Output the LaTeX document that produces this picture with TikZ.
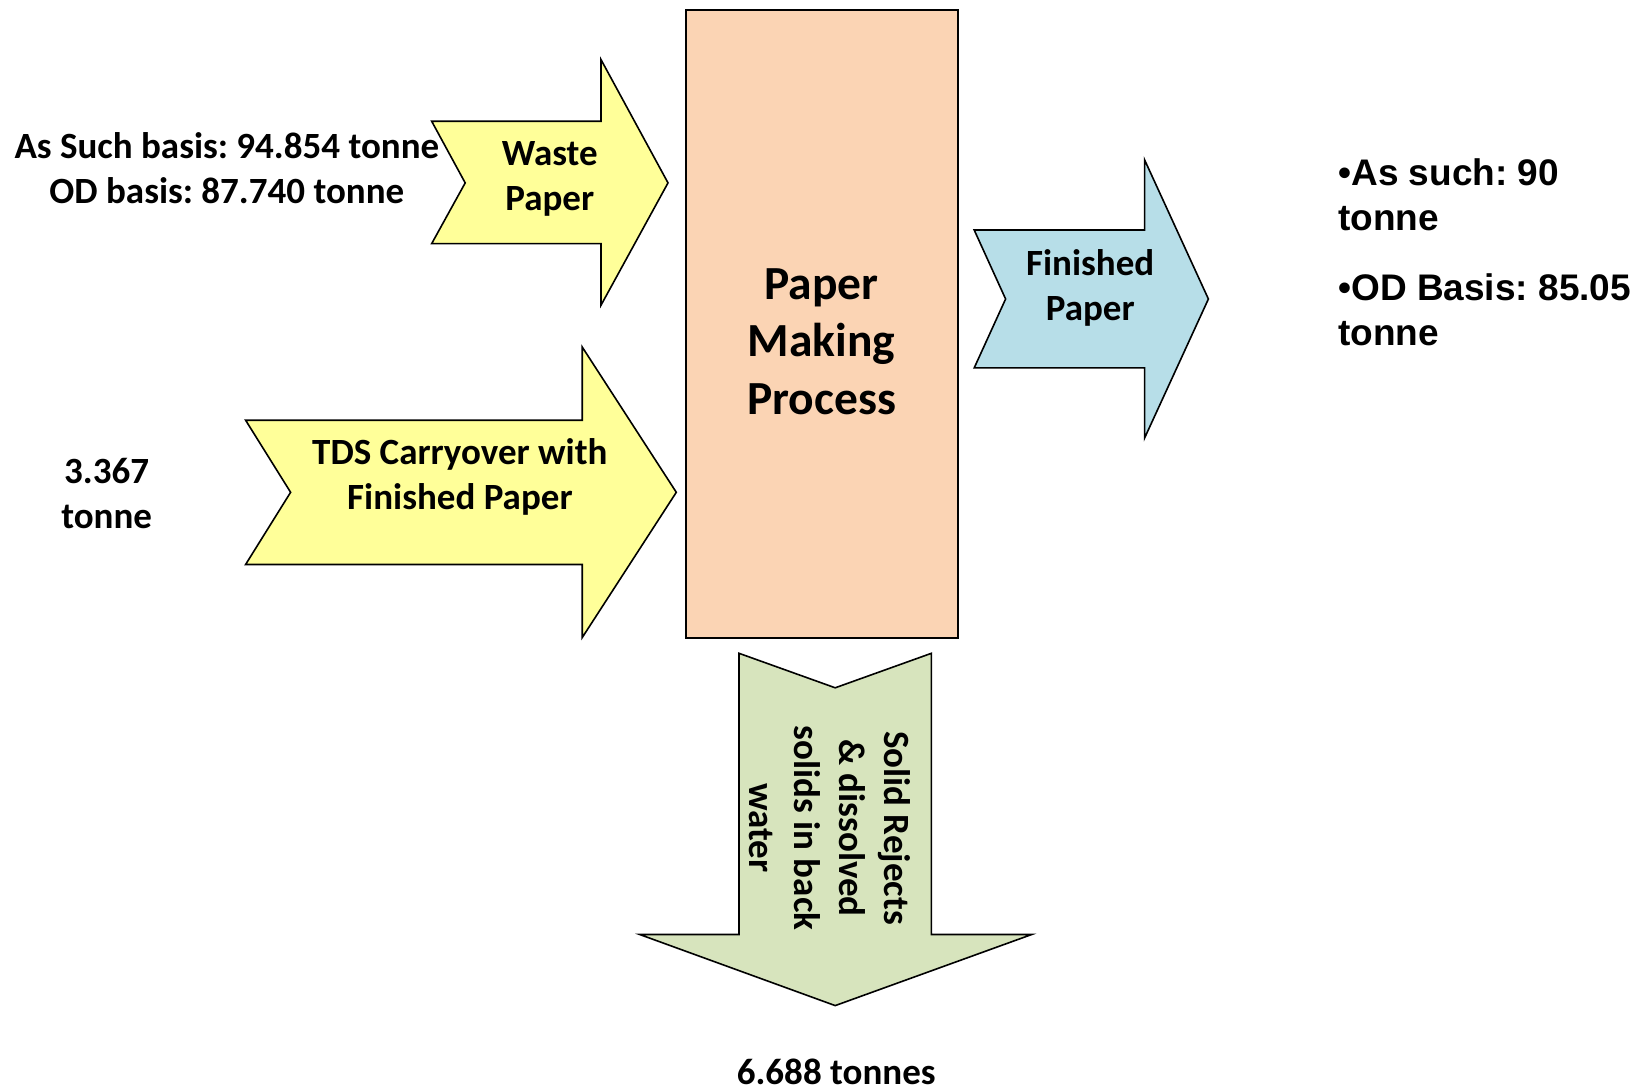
\documentclass[tikz,border=0pt]{standalone}
\usepackage{fontspec}
\setmainfont{Carlito}
\newfontfamily\arialfont{Liberation Sans}
\definecolor{inyellow}{HTML}{FFFF99}
\definecolor{processpeach}{HTML}{FBD4B4}
\definecolor{outblue}{HTML}{B7DEE8}
\definecolor{rejectgreen}{HTML}{D7E4BD}
\frenchspacing

\begin{document}
\begin{tikzpicture}[x=0.5pt,y=-0.5pt,
  flow/.style={draw=black, line width=0.8pt, line join=miter},
  lbl/.style={font=\bfseries\fontsize{18.5}{22.5}\selectfont, align=center, inner sep=0pt},
  biglbl/.style={font=\bfseries\fontsize{23.75}{28.75}\selectfont, align=center, inner sep=0pt},
  sidelbl/.style={font=\arialfont\bfseries\fontsize{18.5}{22.5}\selectfont, align=left, inner sep=0pt, anchor=base west},
  processbox/.style={draw=black, line width=1pt, fill=processpeach, minimum width=135.9pt, minimum height=313.55pt, inner sep=0pt}
]
\useasboundingbox (0,0) rectangle (1639,1091);
\fill[white] (0,0) rectangle (1639,1091);

% central process block
\node[processbox] (proc) at (821.6,324.05) {};
\node[biglbl] (proctext) at (821.6,341.5) {Paper\\Making\\Process};

% waste paper input arrow
\draw[flow, fill=inyellow]
  (431.7,121.3) -- (601.0,121.3) -- (601.0,59.6) -- (668.0,182.9)
  -- (601.0,305.2) -- (601.0,243.6) -- (431.7,243.6) -- (465.2,182.9) -- cycle;
\node[lbl] (waste) at (549.8,179) {Waste\\Paper};

% TDS carryover input arrow
\draw[flow, fill=inyellow]
  (245.6,420.2) -- (582.2,420.2) -- (582.2,347.0) -- (676.3,492.3)
  -- (582.2,637.6) -- (582.2,564.5) -- (245.6,564.5) -- (290.6,492.3) -- cycle;
\node[lbl] (tds) at (459.9,477) {TDS Carryover with\\Finished Paper};

% finished paper output arrow
\draw[flow, fill=outblue]
  (974.2,230.0) -- (1144.6,230.0) -- (1144.6,159.9) -- (1208.4,299.0)
  -- (1144.6,438.0) -- (1144.6,367.9) -- (974.2,367.9) -- (1005.6,299.0) -- cycle;
\node[lbl] (finished) at (1090.2,288) {Finished\\Paper};

% rejects output arrow
\draw[flow, fill=rejectgreen]
  (739.0,653.3) -- (835.2,687.8) -- (931.4,653.3) -- (931.4,934.5)
  -- (1031.7,934.5) -- (835.2,1005.6) -- (639.7,934.5) -- (739.0,934.5) -- cycle;
\node[lbl, rotate=-90] (rejects) at (830,828) {Solid Rejects\\\& dissolved\\solids in back\\water};

% quantities
\node[lbl] (wasteqty) at (226.8,168) {As Such basis: 94.854 tonne\\OD basis: 87.740 tonne};
\node[lbl] (tdsqty) at (106.6,494) {3.367\\tonne};
\node[lbl] (rejectqty) at (836.2,1072) {6.688 tonnes};
\node[sidelbl] (asqty) at (1338,231) {\textbullet As such: 90\\tonne};
\node[sidelbl] (odqty) at (1338,346) {\textbullet OD Basis: 85.05\\tonne};
\end{tikzpicture}
\end{document}
